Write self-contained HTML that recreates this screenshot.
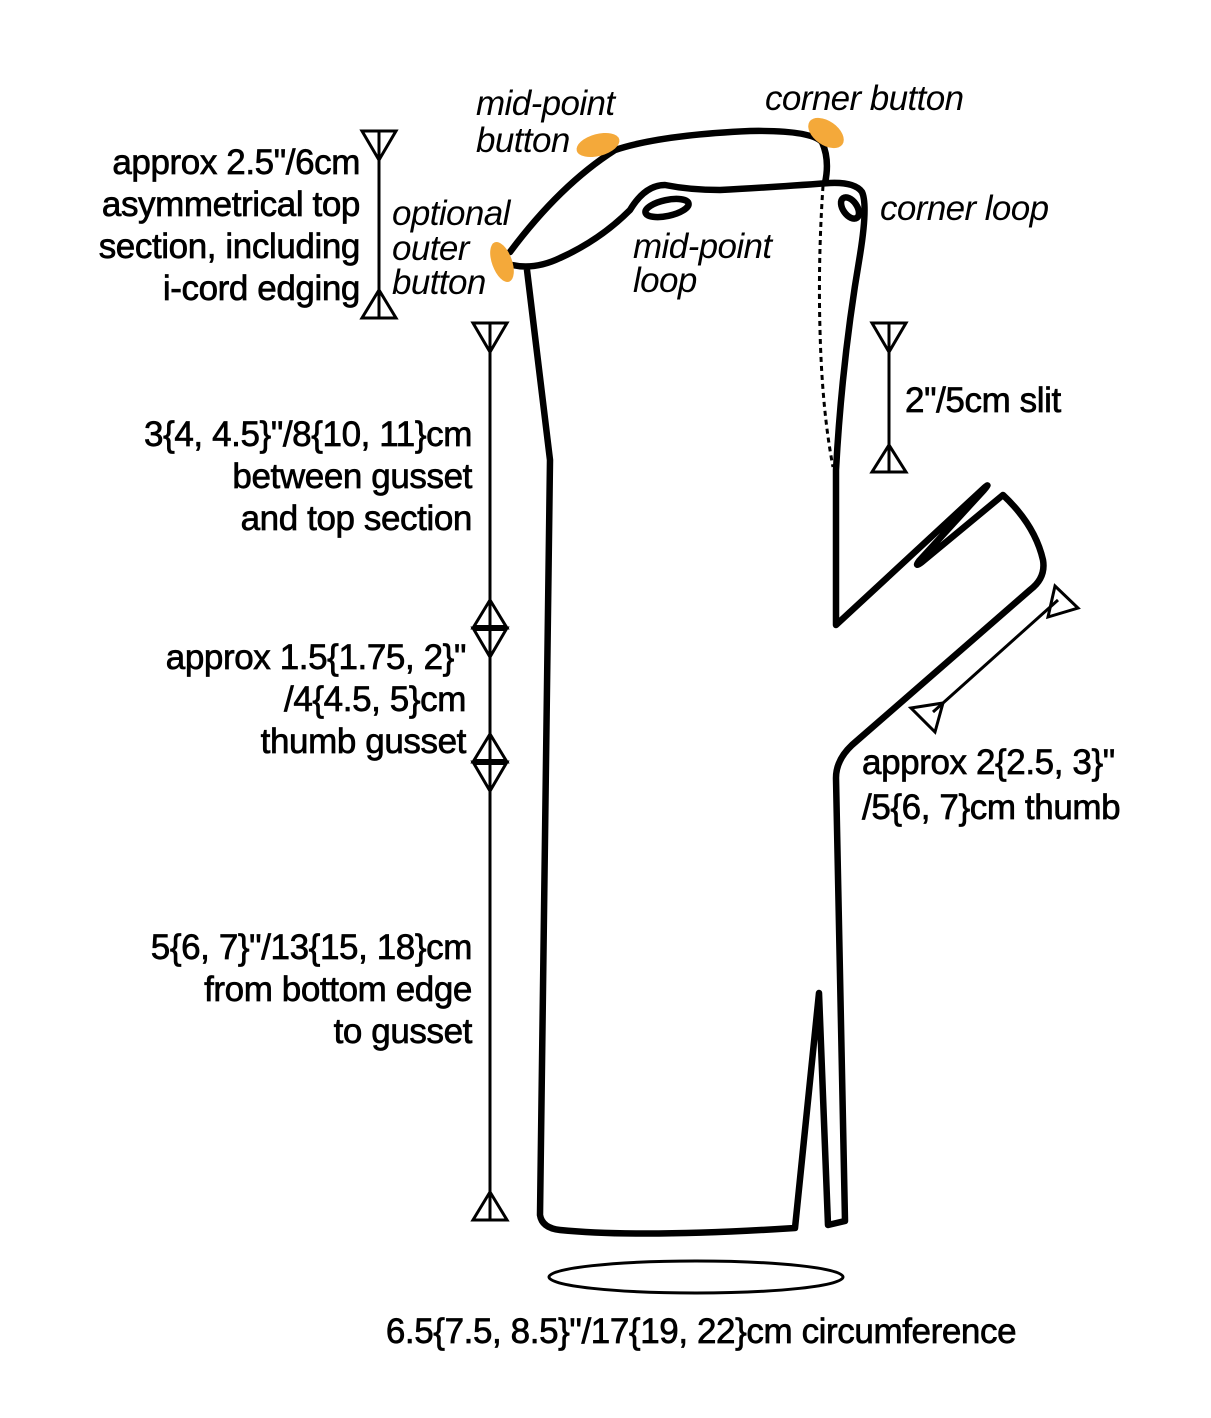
<!DOCTYPE html>
<html><head><style>
html,body{margin:0;padding:0;background:#fff}
svg{display:block}
text{font-family:"Liberation Sans",sans-serif;fill:#000}
.n{font-size:35px;letter-spacing:-0.4px;stroke:#000;stroke-width:0.7px}
.i{font-size:35px;font-style:italic;letter-spacing:-0.6px}
</style></head><body>
<svg width="1211" height="1418" viewBox="0 0 1211 1418" xmlns="http://www.w3.org/2000/svg">
<g fill="none" stroke="#000" stroke-width="6.5" stroke-linejoin="round" stroke-linecap="round">
<path d="M527,270 L550,460 L540,1215 Q542,1228 560,1230 Q640,1238 795,1228 L819,993 L828,1225 L845,1221 L836,778 Q836,760 852,745 L1030,590 Q1046,578 1043,560 Q1035,525 1003,495 L922,562 Q914,568 919,561 L984,490 Q991,482 984,488 L836,625 L836,470 Q842,360 860,255 Q868,205 862,192 Q855,182 830,183 Q760,188 720,190 Q690,190 665,185 Q645,185 630,210 Q600,240 560,258 Q535,270 512,265"/>
<path d="M510,252 Q560,185 615,150 Q660,135 750,131 Q810,130 822,142 Q830,160 825,183"/>
<ellipse cx="667" cy="208" rx="22" ry="8" transform="rotate(-12 667 208)"/>
<ellipse cx="850" cy="208" rx="7" ry="12" transform="rotate(-35 850 208)"/>
</g>
<path d="M823,186 Q818,260 820,330 Q822,410 833,467" fill="none" stroke="#000" stroke-width="3" stroke-dasharray="5,4"/>
<g fill="#f4a93a">
<ellipse cx="598" cy="145" rx="22" ry="11" transform="rotate(-15 598 145)"/>
<ellipse cx="826" cy="133" rx="20" ry="12" transform="rotate(35 826 133)"/>
<ellipse cx="502" cy="262" rx="10" ry="21" transform="rotate(-20 502 262)"/>
</g>
<ellipse cx="696" cy="1277" rx="147" ry="16" fill="none" stroke="#000" stroke-width="3"/>
<g fill="none" stroke="#000" stroke-width="3">
<line x1="379" y1="130" x2="379" y2="318"/>
<polygon points="362,131 396,131 379,160"/>
<polygon points="362,318 396,318 379,290"/>
<line x1="490" y1="322" x2="490" y2="1220"/>
<polygon points="473,323 507,323 490,352"/>
<polygon points="473,628 507,628 490,600"/>
<polygon points="473,628 507,628 490,657"/>
<polygon points="473,762 507,762 490,734"/>
<polygon points="473,762 507,762 490,791"/>
<polygon points="473,1220 507,1220 490,1192"/>
<line x1="889" y1="322" x2="889" y2="472"/>
<polygon points="872,323 906,323 889,352"/>
<polygon points="872,472 906,472 889,445"/>
<line x1="933" y1="712" x2="1058" y2="600"/>
<polygon points="1055,586 1078,608 1048,617"/>
<polygon points="911,708 943,703 935,732"/>
</g>
<g stroke="#000" stroke-width="6">
<line x1="473" y1="628" x2="507" y2="628"/>
<line x1="473" y1="762" x2="507" y2="762"/>
</g>
<g class="n" text-anchor="end">
<text x="360" y="174">approx 2.5"/6cm</text>
<text x="360" y="216">asymmetrical top</text>
<text x="360" y="258">section, including</text>
<text x="360" y="300">i-cord edging</text>
<text x="472" y="446">3{4, 4.5}"/8{10, 11}cm</text>
<text x="472" y="488">between gusset</text>
<text x="472" y="530">and top section</text>
<text x="466" y="669">approx 1.5{1.75, 2}"</text>
<text x="466" y="711">/4{4.5, 5}cm</text>
<text x="466" y="753">thumb gusset</text>
<text x="472" y="959">5{6, 7}"/13{15, 18}cm</text>
<text x="472" y="1001">from bottom edge</text>
<text x="472" y="1043">to gusset</text>
</g>
<g class="n">
<text x="905" y="412">2"/5cm slit</text>
<text x="862" y="774">approx 2{2.5, 3}"</text>
<text x="862" y="819">/5{6, 7}cm thumb</text>
<text x="701" y="1343" text-anchor="middle">6.5{7.5, 8.5}"/17{19, 22}cm circumference</text>
</g>
<g class="i">
<text x="476" y="115">mid-point</text>
<text x="476" y="152">button</text>
<text x="765" y="110">corner button</text>
<text x="392" y="225">optional</text>
<text x="392" y="260">outer</text>
<text x="392" y="294">button</text>
<text x="880" y="220">corner loop</text>
<text x="633" y="258">mid-point</text>
<text x="633" y="292">loop</text>
</g>
</svg>
</body></html>
